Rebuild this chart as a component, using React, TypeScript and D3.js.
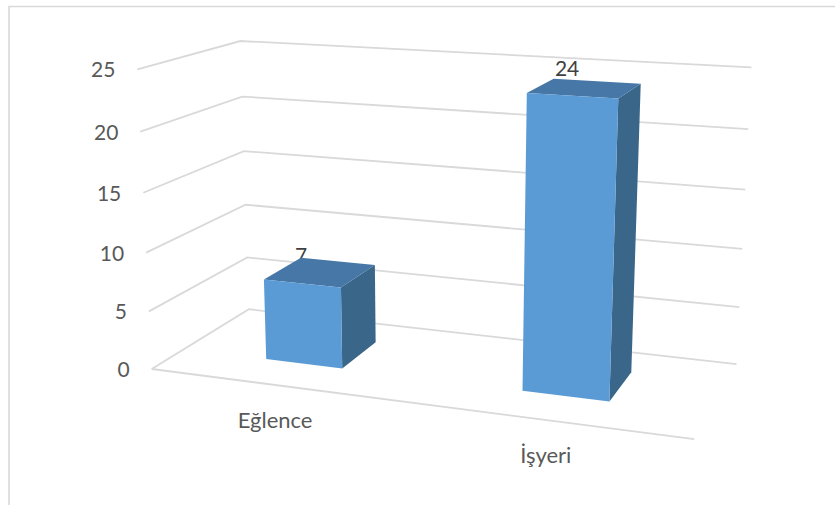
import React from "react";
import * as d3 from "d3";

const categories = ["Eğlence", "İşyeri"];
const values = [7, 24];
const ticks = [0, 5, 10, 15, 20, 25];
const maxValue = 25;

// Bar footprints in floor space (0..1 along the category axis, 0..1 in depth)
const barU: [number, number][] = [[0.172, 0.326], [0.671, 0.828]];
const barDepth: [number, number] = [0.31, 0.72];
const labelNudge: [number, number][] = [[-1, 2], [-5, -5]];

// Screen calibration of the chart's 3D box: [u, depth, value, sx, sy]
const calibration: number[][] = [
  [0, 0, 0, 153, 369], [0, 0, 5, 149, 312], [0, 0, 10, 146, 253], [0, 0, 15, 143, 192], [0, 0, 20, 140, 132], [0, 0, 25, 137, 69],
  [0, 1, 0, 247, 309], [0, 1, 5, 247, 257], [0, 1, 10, 246, 205], [0, 1, 15, 245, 151], [0, 1, 20, 243, 97], [0, 1, 25, 240, 41],
  [1, 1, 0, 736, 364], [1, 1, 5, 740, 307], [1, 1, 10, 743, 249], [1, 1, 15, 745, 190], [1, 1, 20, 748, 129], [1, 1, 25, 751, 67],
  [1, 0, 0, 694, 439],
];

function solve(A: number[][], b: number[]): number[] {
  const n = b.length;
  const M = A.map((r, i) => [...r, b[i]]);
  for (let c = 0; c < n; c++) {
    let p = c;
    for (let r = c + 1; r < n; r++) if (Math.abs(M[r][c]) > Math.abs(M[p][c])) p = r;
    [M[c], M[p]] = [M[p], M[c]];
    for (let r = 0; r < n; r++) {
      if (r === c) continue;
      const f = M[r][c] / M[c][c];
      for (let k = c; k <= n; k++) M[r][k] -= f * M[c][k];
    }
  }
  return M.map((r, i) => r[n] / r[i]);
}

const vNorm = d3.scaleLinear().domain([0, maxValue]).range([0, 1]);

function fitProjection() {
  const rows: number[][] = [];
  const rhs: number[] = [];
  calibration.forEach(([u, d, v, sx, sy]) => {
    const X = [u, d, vNorm(v), 1];
    const x = sx / 500;
    const y = sy / 500;
    const w = [u, d, vNorm(v)];
    rows.push([...X, 0, 0, 0, 0, ...w.map((t) => -x * t)]);
    rhs.push(x);
    rows.push([0, 0, 0, 0, ...X, ...w.map((t) => -y * t)]);
    rhs.push(y);
  });
  const n = 11;
  const AtA = d3.range(n).map((i) => d3.range(n).map((j) => d3.sum(rows, (r) => r[i] * r[j])));
  const Atb = d3.range(n).map((i) => d3.sum(rows, (r, k) => r[i] * rhs[k]));
  return solve(AtA, Atb);
}
const P = fitProjection();

function project(u: number, d: number, v: number): [number, number] {
  const t = vNorm(v);
  const w = P[8] * u + P[9] * d + P[10] * t + 1;
  return [
    (500 * (P[0] * u + P[1] * d + P[2] * t + P[3])) / w,
    (500 * (P[4] * u + P[5] * d + P[6] * t + P[7])) / w,
  ];
}

const poly = (pts: [number, number][]) => d3.line()(pts) + "Z";

const GRID = "#D9D9D9";
const FRONT = "#5B9BD5";
const TOP = "#4677A6";
const SIDE = "#3A6689";
const FONT = "Lato, Carlito, sans-serif";

export default function App() {
  const [d0, d1] = barDepth;
  return (
    <svg width={835} height={505} style={{ position: "fixed", left: 0, top: 0, background: "#fff" }}>
      <path d="M9 505V6.5H835" fill="none" stroke={GRID} strokeWidth={1.6} />
      {ticks.map((t) => (
        <path
          key={t}
          d={d3.line()([project(0, 0, t), project(0, 1, t), project(1, 1, t)]) as string}
          fill="none"
          stroke={GRID}
          strokeWidth={1.8}
        />
      ))}
      <path d={d3.line()([project(0, 0, 0), project(1, 0, 0)]) as string} fill="none" stroke={GRID} strokeWidth={1.8} />
      {ticks.map((t) => {
        const [x, y] = project(0, 0, t);
        return (
          <text key={t} x={x - 22} y={y + 8} textAnchor="end" fontFamily={FONT} fontSize={21} fill="#595959">
            {t}
          </text>
        );
      })}
      {categories.map((c, i) => {
        const [u0, u1] = barU[i];
        const [lx, ly] = project((u0 + u1) / 2, 0, 0);
        return (
          <text key={c} x={lx} y={ly + 43} textAnchor="middle" fontFamily={FONT} fontSize={22} fill="#595959">
            {c}
          </text>
        );
      })}
      {values.map((v, i) => {
        const [u0, u1] = barU[i];
        const [tx] = project((u0 + u1) / 2, d0, v);
        const [, ty] = project((u0 + u1) / 2, d1, v);
        return (
          <text key={"l" + i} x={tx + labelNudge[i][0]} y={ty + labelNudge[i][1]} textAnchor="middle" fontFamily={FONT} fontSize={21} fill="#404040">
            {v}
          </text>
        );
      })}
      {values.map((v, i) => {
        const [u0, u1] = barU[i];
        return (
          <g key={"b" + i}>
            <path d={poly([project(u1, d0, 0), project(u1, d1, 0), project(u1, d1, v), project(u1, d0, v)])} fill={SIDE} />
            <path d={poly([project(u0, d0, v), project(u1, d0, v), project(u1, d1, v), project(u0, d1, v)])} fill={TOP} />
            <path d={poly([project(u0, d0, 0), project(u1, d0, 0), project(u1, d0, v), project(u0, d0, v)])} fill={FRONT} />
          </g>
        );
      })}
    </svg>
  );
}
